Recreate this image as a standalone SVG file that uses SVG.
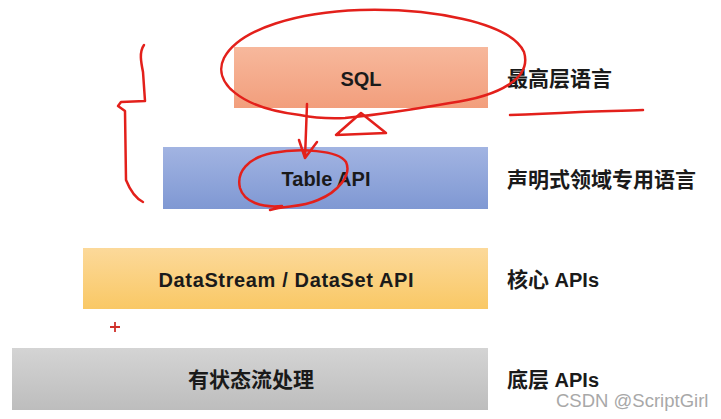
<svg xmlns="http://www.w3.org/2000/svg" width="721" height="419" viewBox="0 0 721 419">
<defs>
<linearGradient id="gSql" x1="0" y1="0" x2="0" y2="1"><stop offset="0" stop-color="#f7b89c"/><stop offset="1" stop-color="#f29e7c"/></linearGradient>
<linearGradient id="gTab" x1="0" y1="0" x2="0" y2="1"><stop offset="0" stop-color="#a2b4e2"/><stop offset="1" stop-color="#7f98d3"/></linearGradient>
<linearGradient id="gDs" x1="0" y1="0" x2="0" y2="1"><stop offset="0" stop-color="#fcd99a"/><stop offset="1" stop-color="#f9c865"/></linearGradient>
<linearGradient id="gSt" x1="0" y1="0" x2="0" y2="1"><stop offset="0" stop-color="#d4d4d4"/><stop offset="1" stop-color="#bdbdbd"/></linearGradient>
<style>
.t{font-family:"Liberation Sans","Noto Sans CJK SC",sans-serif;font-weight:bold;font-size:20px;fill:#1a1a1a}
.c{text-anchor:middle}
.cj{font-size:21px}
.ink{fill:none;stroke:#e3201b;stroke-width:2.5;stroke-linecap:round;stroke-linejoin:round}
.wm{font-family:"Liberation Sans",sans-serif;font-size:18.5px;fill:#a8a8a8}
</style>
</defs>
<rect width="721" height="419" fill="#ffffff"/>

<g id="sql"><rect x="234" y="47" width="254" height="61" fill="url(#gSql)"/><text class="t c" x="361" y="86">SQL</text></g>
<g id="table-api"><rect x="163" y="147" width="325" height="62" fill="url(#gTab)"/><text class="t c" x="326" y="186">Table API</text></g>
<g id="datastream"><rect x="83" y="248" width="405" height="61" fill="url(#gDs)"/><text class="t c" x="286" y="287" textLength="255" lengthAdjust="spacing">DataStream / DataSet API</text></g>
<g id="stateful"><rect x="12" y="348" width="476" height="62" fill="url(#gSt)"/><text class="t c cj" x="251" y="387">有状态流处理</text></g>

<g id="labels">
<text class="t cj" x="507" y="86">最高层语言</text>
<text class="t cj" x="507" y="187">声明式领域专用语言</text>
<text class="t" x="507" y="287"><tspan class="cj">核心</tspan> APIs</text>
<text class="t" x="507" y="387"><tspan class="cj">底层</tspan> APIs</text>
</g>

<g id="annotations">
<path class="ink" d="M300,115 C240,108 212,82 224,58 C240,28 300,12 360,10 C430,8 510,22 524,52 C532,78 500,96 450,103 C410,110 375,115 345,118 C325,119 310,117 300,115"/>
<path class="ink" d="M307,104 L305,158 M299,140 L305,158 L317,142"/>
<path class="ink" d="M361,113 L336,135 L386,133 Z"/>
<path class="ink" d="M270,210 C288,205 300,208 318,200 C338,192 352,175 346,162 C338,150 300,148 272,153 C248,158 236,172 240,188 C244,202 262,208 282,206"/>
<path class="ink" d="M144,45 C139,52 141,62 143,72 L145,101 L121,102 L118,106 L125,111 L126,180 C130,190 135,198 143,202"/>
<path class="ink" d="M510,115 C540,114 560,113 580,112 C605,111 625,111 643,110"/>
<path d="M115,322 L115,332 M110,327 L120,327" fill="none" stroke="#d0302a" stroke-width="1.8"/>
</g>

<text class="wm" x="556" y="407">CSDN @ScriptGirl</text>
</svg>
